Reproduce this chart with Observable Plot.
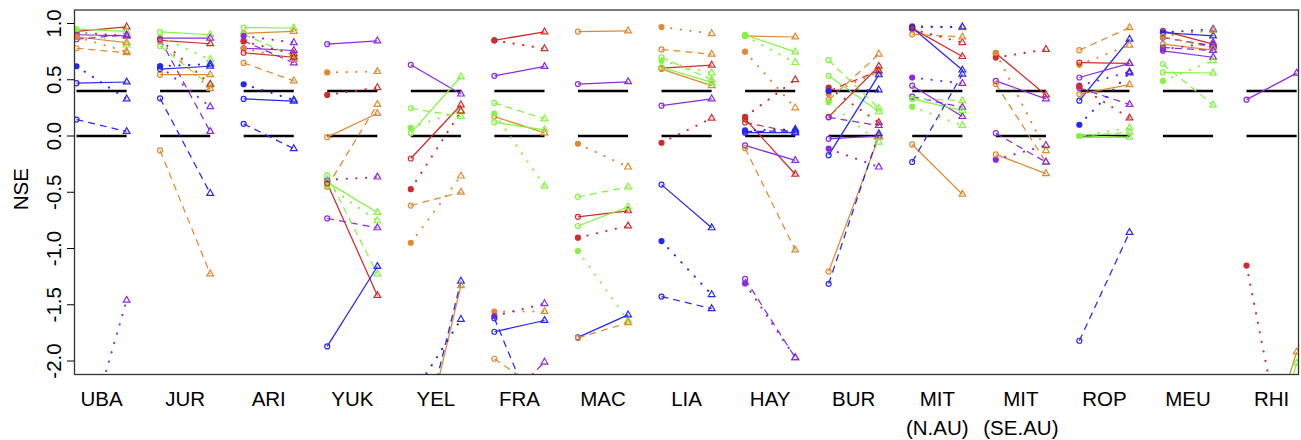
<!DOCTYPE html>
<html><head><meta charset="utf-8">
<script src="https://cdn.jsdelivr.net/npm/d3@7"></script>
<script src="https://cdn.jsdelivr.net/npm/@observablehq/plot@0.6"></script>
<style>body{margin:0;background:#fff}</style>
</head><body><div id="chart"></div>
<script>
const basins = ["UBA","JUR","ARI","YUK","YEL","FRA","MAC","LIA","HAY","BUR","MIT_N","MIT_SE","ROP","MEU","RHI"];
const tickLabels = ["UBA","JUR","ARI","YUK","YEL","FRA","MAC","LIA","HAY","BUR","MIT\n(N.AU)","MIT\n(SE.AU)","ROP","MEU","RHI"];
const yTicks = [-2, -1.5, -1, -0.5, 0, 0.5, 1];
const refLevels = [0, 0.4];
const palette = {red: "#D22B2B", orange: "#E08A30", green: "#84F443", blue: "#2626F5", purple: "#8A2BE2"};

// [colour, line style, NSE left (circle), NSE right (triangle)]
const UBA = [["red","solid",0.93,0.97],["red","dotted",0.92,0.89],["green","solid",0.95,0.93],["green","dotted",0.94,0.81],
  ["purple","solid",0.90,0.89],["purple","dashed",0.86,0.90],["orange","solid",0.88,0.83],["orange","dashed",0.78,0.74],
  ["orange","dotted",0.88,0.75],["blue","dotted",0.62,0.33],["blue","solid",0.47,0.48],["blue","dashed",0.146,0.04],["purple","dotted",-3.0,-1.46]];
const JUR = [["green","solid",0.925,0.90],["purple","solid",0.87,0.87],["red","solid",0.85,0.82],["orange","solid",0.545,0.545],
  ["green","dashed",0.80,0.45],["green","dotted",0.88,0.68],["red","dotted",0.86,0.46],["orange","dotted",0.84,0.42],
  ["purple","dotted",0.62,0.26],["purple","dashed",0.86,0.04],["blue","solid",0.595,0.62],["blue","dotted",0.62,0.64],
  ["blue","dashed",0.335,-0.51],["orange","dashed",-0.128,-1.226]];
const ARI = [["green","solid",0.963,0.96],["orange","solid",0.913,0.93],["green","dashed",0.904,0.71],["purple","dotted",0.89,0.83],
  ["purple","dashed",0.845,0.65],["red","dotted",0.84,0.73],["purple","solid",0.78,0.76],["orange","dotted",0.78,0.68],
  ["red","solid",0.74,0.70],["orange","dashed",0.65,0.49],["blue","dotted",0.46,0.32],["blue","solid",0.33,0.31],["blue","dashed",0.108,-0.113]];
const YUK = [["purple","solid",0.816,0.845],["orange","dotted",0.565,0.573],["red","dotted",0.365,0.43],["orange","solid",-0.01,0.20],
  ["orange","dashed",-0.45,0.28],["purple","dotted",-0.39,-0.365],["green","solid",-0.41,-0.68],["green","dotted",-0.44,-0.754],
  ["purple","dashed",-0.733,-0.816],["green","dashed",-0.35,-1.226],["red","solid",-0.42,-1.418],["blue","solid",-1.87,-1.16]];
const YEL = [["purple","solid",0.633,0.373],["green","solid",0.025,0.527],["green","dashed",0.246,0.173],["green","dotted",0.073,0.226],
  ["red","solid",-0.2,0.276],["red","dotted",-0.473,0.22],["orange","dashed",-0.618,-0.5],["orange","dotted",-0.949,-0.356],
  ["blue","dotted",-2.33,-1.63],["blue","dashed",-3.1,-1.29],["orange","solid",-3.2,-1.33]];
const FRA = [["red","solid",0.851,0.925],["red","dotted",0.85,0.777],["purple","solid",0.535,0.618],["green","dashed",0.294,0.152],
  ["orange","solid",0.173,0.028],["green","solid",0.122,0.055],["green","dotted",0.20,-0.444],["orange","dotted",-1.56,-1.56],
  ["purple","dotted",-1.60,-1.49],["blue","solid",-1.74,-1.64],["blue","dashed",-1.62,-2.70],["orange","dashed",-1.98,-2.29],["purple","dashed",-2.45,-2.01]];
const MAC = [["orange","solid",0.928,0.934],["purple","solid",0.462,0.482],["orange","dotted",-0.069,-0.276],["green","dashed",-0.541,-0.453],
  ["red","solid",-0.718,-0.665],["green","solid",-0.80,-0.63],["red","dotted",-0.904,-0.80],["green","dotted",-1.022,-1.64],
  ["blue","solid",-1.79,-1.59],["orange","dashed",-1.795,-1.66]];
const LIA = [["orange","dotted",0.969,0.91],["orange","dashed",0.77,0.727],["green","dashed",0.70,0.50],["green","dotted",0.668,0.56],
  ["red","solid",0.603,0.63],["orange","solid",0.595,0.447],["green","solid",0.61,0.476],["purple","solid",0.27,0.33],
  ["red","dotted",-0.06,0.158],["blue","solid",-0.432,-0.816],["blue","dotted",-0.934,-1.41],["blue","dashed",-1.427,-1.535]];
const HAY = [["orange","solid",0.889,0.88],["green","solid",0.898,0.748],["green","dotted",0.89,0.653],["orange","dotted",0.75,0.25],
  ["red","dotted",0.17,0.50],["red","solid",0.152,-0.34],["red","dashed",0.12,0.03],["blue","solid",0.03,0.03],["blue","dashed",0.04,0.045],
  ["blue","dotted",0.05,0.06],["purple","solid",-0.084,-0.217],["orange","dashed",-0.108,-1.013],["purple","dashed",-1.27,-1.97],["purple","dotted",-1.31,-1.97]];
const BUR = [["green","dashed",0.674,0.246],["green","solid",0.535,0.217],["orange","dashed",0.32,0.727],["orange","dotted",0.373,0.57],
  ["red","solid",0.17,0.62],["red","dotted",0.43,0.12],["red","dashed",0.40,0.58],["purple","dashed",0.166,0.093],["purple","solid",-0.025,0.0],
  ["purple","dotted",-0.113,-0.276],["blue","solid",-0.17,0.544],["blue","dotted",0.40,0.41],["orange","solid",-1.205,-0.01],
  ["blue","dashed",-1.314,0.02],["green","dotted",0.30,-0.055]];
const MIT_N = [["orange","dotted",0.978,0.963],["blue","dotted",0.97,0.97],["red","dotted",0.949,0.83],["red","solid",0.957,0.706],
  ["blue","solid",0.963,0.586],["orange","dashed",0.904,0.88],["blue","dashed",-0.231,0.55],["purple","dotted",0.52,0.467],
  ["purple","solid",0.447,0.173],["purple","dashed",0.35,0.255],["green","dashed",0.33,0.314],["green","solid",0.33,0.226],
  ["green","dotted",0.261,0.093],["orange","solid",-0.075,-0.518]];
const MIT_SE = [["red","dotted",0.697,0.77],["red","solid",0.736,0.365],["orange","dotted",0.74,-0.13],["purple","solid",0.49,0.33],
  ["orange","dashed",0.462,-0.231],["purple","dashed",0.025,-0.232],["purple","dotted",-0.21,-0.084],["orange","solid",-0.164,-0.335]];
const ROP = [["orange","dashed",0.763,0.963],["blue","solid",0.314,0.86],["orange","dotted",0.633,0.807],["red","solid",0.653,0.645],
  ["purple","solid",0.52,0.645],["purple","dotted",0.447,0.571],["blue","dotted",0.10,0.56],["orange","solid",0.373,0.456],
  ["purple","dashed",0.427,0.28],["red","dotted",0.44,0.16],["green","solid",0.0,-0.01],["green","dashed",0.0,0.034],
  ["green","dotted",0.0,0.072],["blue","dashed",-1.82,-0.857]];
const MEU = [["red","solid",0.934,0.816],["blue","solid",0.919,0.889],["blue","dotted",0.92,0.949],["orange","dotted",0.889,0.94],
  ["blue","dashed",0.875,0.80],["orange","dashed",0.88,0.786],["purple","dotted",0.77,0.83],["orange","solid",0.816,0.763],
  ["purple","dashed",0.786,0.76],["purple","solid",0.757,0.70],["green","solid",0.565,0.56],["green","dotted",0.49,0.67],["green","dashed",0.64,0.276]];
const RHI = [["purple","solid",0.323,0.559],["red","dotted",-1.152,-3.39],["orange","solid",-3.36,-1.92],["green","solid",-3.5,-2.02]];

const basinData = [UBA, JUR, ARI, YUK, YEL, FRA, MAC, LIA, HAY, BUR, MIT_N, MIT_SE, ROP, MEU, RHI];
const span = 0.6;
const rows = basinData.flatMap((arr, b) => arr.map(([c, style, left, right]) => ({pos: b + 1, color: palette[c], style, left, right})));
const refs = basins.flatMap((name, b) => refLevels.map(v => ({pos: b + 1, v})));
const lineStyle = {
  solid: {strokeWidth: 1.25},
  dashed: {strokeWidth: 1.25, strokeDasharray: "7,5"},
  dotted: {strokeWidth: 2.1, strokeDasharray: "0.2,9.5", strokeLinecap: "round"}
};

const marks = [
  Plot.link(refs, {x1: "pos", x2: d => d.pos + span, y1: "v", y2: "v", stroke: "black", strokeWidth: 2.4})
];
for (const s of ["solid", "dashed", "dotted"]) {
  marks.push(Plot.link(rows.filter(d => d.style === s), {
    x1: "pos", x2: d => d.pos + span, y1: "left", y2: "right",
    stroke: "color", ...lineStyle[s], clip: true
  }));
}
marks.push(Plot.dot(rows, {x: "pos", y: "left", symbol: "circle", r: 2.5, stroke: "color",
  fill: d => d.style === "dotted" ? d.color : "none", strokeWidth: 1.2, clip: true}));
marks.push(Plot.dot(rows, {x: d => d.pos + span, y: "right", symbol: "triangle", r: 2.5, stroke: "color",
  fill: "none", strokeWidth: 1.2, clip: true}));
marks.push(Plot.frame({stroke: "#333", strokeWidth: 1.3}));
marks.push(Plot.axisY({ticks: yTicks, tickFormat: d => d.toFixed(1), tickRotate: -90, tickSize: 7, tickPadding: 7,
  fontSize: 20.5, label: null}));
marks.push(Plot.axisX({ticks: basins.map((_, b) => b + 1 + span / 2),
  tickFormat: d => tickLabels[Math.round(d - 1 - span / 2)], tickSize: 0, tickPadding: 11.5,
  fontSize: 20.5, lineHeight: 1.4, label: null}));
marks.push(Plot.text(["NSE"], {frameAnchor: "left", dx: -53, dy: -3, rotate: -90, fontSize: 20.5, textAnchor: "middle"}));

const chart = Plot.plot({
  width: 1301, height: 440,
  marginLeft: 74, marginRight: 3, marginTop: 9.5, marginBottom: 66,
  x: {domain: [0.976, 15.622]},
  y: {domain: [-2.12, 1.12]},
  color: {type: "identity"},
  style: {fontFamily: "'Liberation Sans', Arial, Helvetica, sans-serif", color: "black", background: "white", overflow: "visible"},
  marks
});
document.getElementById("chart").appendChild(chart);
</script>
</body></html>
